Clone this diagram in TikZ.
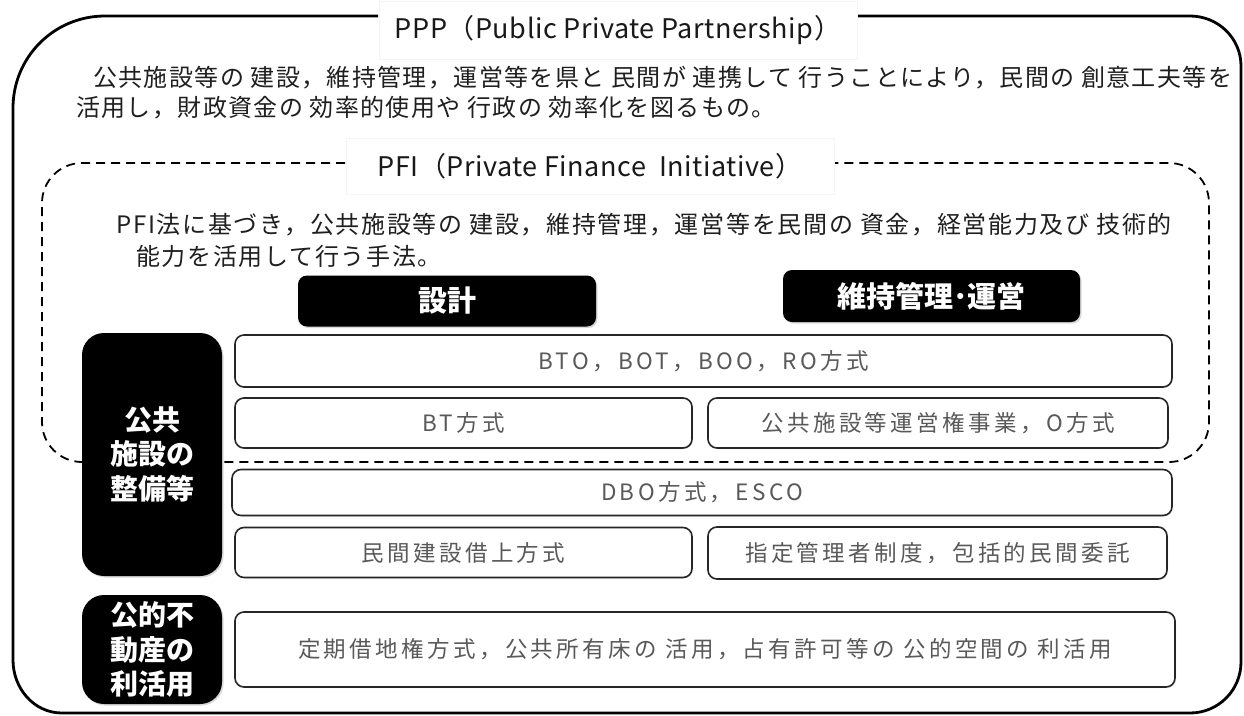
\documentclass[tikz,border=0pt]{standalone}
\usepackage{fontspec}
\setmainfont{Noto Sans CJK JP}
\newfontfamily\wfont[LetterSpace=15]{Noto Sans CJK JP}
\newfontfamily\dfont[LetterSpace=5.7]{Noto Sans CJK JP}
\newfontfamily\pfont[LetterSpace=7]{Noto Sans CJK JP}
\newfontfamily\tfont[LetterSpace=2]{Noto Sans CJK JP}
\usetikzlibrary{shadows}
\begin{document}
\begin{tikzpicture}[x=1pt,y=-1pt,
  frame/.style={line width=2.8pt, black},
  pfiline/.style={line width=1.8pt, dash pattern=on 9pt off 6pt, rounded corners=40pt},
  titlebg/.style={draw=black!4, fill=white, inner sep=0pt, font=\tfont\fontsize{27}{32}\selectfont, text=black!90},
  desc/.style={inner sep=0pt, text=black!88},
  headbox/.style={fill=black, rounded corners=9pt, text=white, inner sep=0pt, font=\bfseries\fontsize{29}{33}\selectfont, drop shadow={shadow xshift=1.5pt, shadow yshift=-1.5pt, opacity=0.3}},
  sidebox/.style={fill=black, rounded corners=22pt, text=white, inner sep=0pt, align=center, font=\bfseries\fontsize{28}{34.5}\selectfont, minimum width=140pt, drop shadow={shadow xshift=1.5pt, shadow yshift=-1.5pt, opacity=0.3}},
  wbox/.style={draw=black!85, fill=white, line width=1.6pt, rounded corners=9pt, inner sep=0pt, text=black!65, font=\wfont\fontsize{22.5}{26}\selectfont, drop shadow={shadow xshift=1pt, shadow yshift=-1pt, opacity=0.2}}
]
\useasboundingbox (0,0) rectangle (1244,715);
\fill[white] (0,0) rectangle (1244,715);

% outer PPP frame
\draw[frame] (378,16) -- (105,16) to[out=180,in=90] (13,108) -- (13,660)
  to[out=270,in=180] (62,713) -- (1190,713) to[out=0,in=270] (1241,662)
  -- (1241,66) to[out=90,in=0] (1190,16) -- (858,16);
\node[titlebg, minimum width=478pt, minimum height=58pt] (ppptitle) at (618,30) {PPP（Public Private Partnership）};

\node[desc, font=\dfont\fontsize{24}{30}\selectfont, anchor=west] (d1) at (93,78) {公共施設等の 建設，維持管理，運営等を県と 民間が 連携して 行うことにより，民間の 創意工夫等を};
\node[desc, font=\dfont\fontsize{24}{30}\selectfont, anchor=west] (d2) at (76,108) {活用し，財政資金の 効率的使用や 行政の 効率化を図るもの。};

% PFI dashed frame
\draw[pfiline] (345,163) -- (42,163) -- (42,462) -- (1209,462) -- (1209,163) -- (835,163);
\node[titlebg, minimum width=488pt, minimum height=56pt] (pfititle) at (590,166) {PFI（Private Finance\ \ Initiative）};

\node[desc, font=\pfont\fontsize{24}{30}\selectfont, anchor=west] (p1) at (116,225) {PFI法に基づき，公共施設等の 建設，維持管理，運営等を民間の 資金，経営能力及び 技術的};
\node[desc, font=\pfont\fontsize{24}{30}\selectfont, anchor=west] (p2) at (136,256) {能力を活用して行う手法。};

% column headers
\node[headbox, minimum width=298pt, minimum height=51pt] (design) at (447,301) {設計};
\node[headbox, minimum width=297pt, minimum height=52pt] (om) at (931.5,296) {維持管理･運営};

% side labels
\node[sidebox, minimum height=243pt] (pubfac) at (152,454.5) {公共\\施設の\\整備等};
\node[sidebox, minimum height=109pt] (pubre) at (152,649.5) {公的不\\動産の\\利活用};

% scheme boxes
\node[wbox, minimum width=937pt, minimum height=52pt] (bto) at (703.5,361) {BTO，BOT，BOO，RO方式};
\node[wbox, minimum width=457pt, minimum height=50pt] (bt) at (463.5,423) {BT方式};
\node[wbox, minimum width=460pt, minimum height=50pt] (conc) at (938,423) {公共施設等運営権事業，O方式};
\node[wbox, minimum width=940pt, minimum height=46pt] (dbo) at (702,492.5) {DBO方式，ESCO};
\node[wbox, minimum width=457pt, minimum height=50pt] (lease) at (463.5,552.5) {民間建設借上方式};
\node[wbox, minimum width=459pt, minimum height=52pt] (mgr) at (937.5,553) {指定管理者制度，包括的民間委託};
\node[wbox, minimum width=940pt, minimum height=75pt] (land) at (705,649.5) {定期借地権方式，公共所有床の 活用，占有許可等の 公的空間の 利活用};
\end{tikzpicture}
\end{document}
